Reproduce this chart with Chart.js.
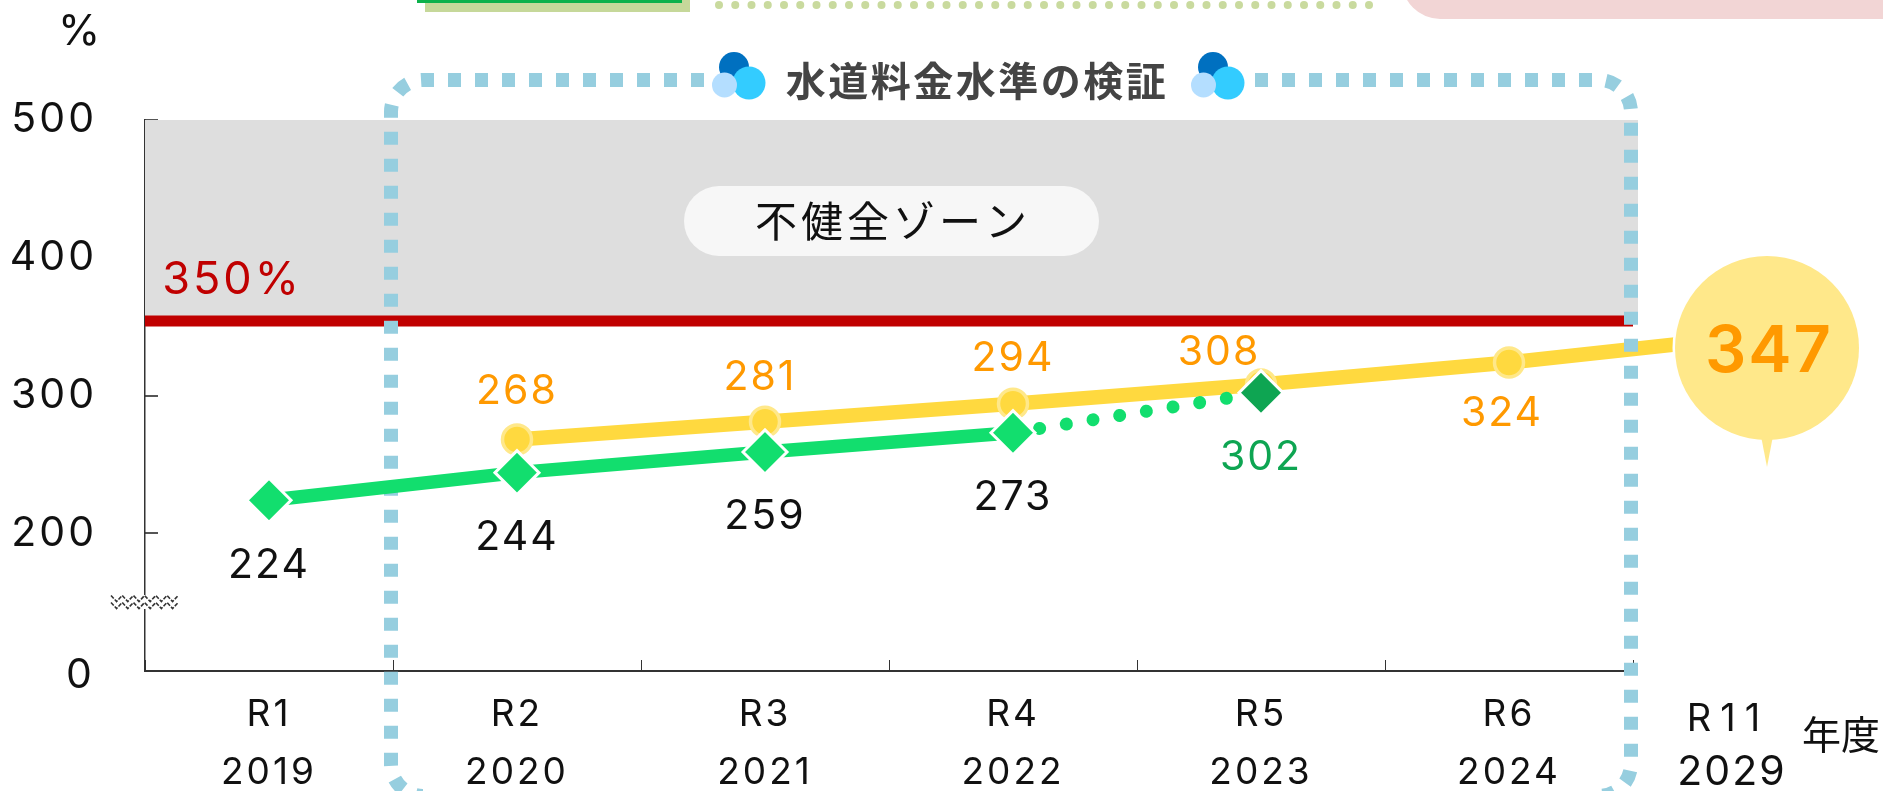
<!DOCTYPE html>
<html lang="ja">
<head>
<meta charset="utf-8">
<title>水道料金水準の検証</title>
<script src="https://cdn.jsdelivr.net/npm/chart.js@4"></script>
<style>
html, body { margin: 0; padding: 0; background: #fff; overflow: hidden; }
canvas { display: block; }
</style>
</head>
<body>
<canvas id="myChart" width="1883" height="791"></canvas>
<script>
// data
const yearLabels = [['R1', '2019'], ['R2', '2020'], ['R3', '2021'], ['R4', '2022'], ['R5', '2023'], ['R6', '2024']];
const actualValues = [224, 244, 259, 273, null, null];
const estimateValues = [null, null, null, 273, 302, null];
const planValues = [null, 268, 281, 294, 308, 324];
const planPositions = [0, 1, 2, 3, 4, 5];
const planLastPosition = 6.18;   // R11 sits off the regular scale, behind the bubble
const planLastValue = 347;
const limitValue = 354;          // where the 350% line is actually drawn
const limitEnds = [-0.5, 5.5];
const yTickValues = [100, 200, 300, 400, 500];
const yTickLabels = ['0', '200', '300', '400', '500']; // broken axis: bottom shows 0

const numFont = 'Inter';
const jpFont = '"Noto Sans CJK JP"';
const green = '#12DE6E';
const darkGreen = '#0EA552';
const yellow = '#FFD93F';
const paleYellow = '#FFE88A';
const orange = '#FF9900';
const dotBlue = '#96CEDF';

function text(c, str, x, y, font, color, spacing) {
    c.font = font;
    c.fillStyle = color;
    c.textAlign = 'center';
    c.textBaseline = 'middle';
    c.letterSpacing = (spacing || 0) + 'px';
    c.fillText(str, x, y);
    c.letterSpacing = '0px';
}

function drops(c, dx) {
    c.fillStyle = '#0070C0';
    c.beginPath(); c.arc(734 + dx, 67, 15, 0, Math.PI * 2); c.fill();
    c.fillStyle = '#33CCFF';
    c.beginPath(); c.arc(749 + dx, 83, 16.5, 0, Math.PI * 2); c.fill();
    c.fillStyle = '#B4DEFF';
    c.beginPath(); c.arc(724.5 + dx, 85, 12.5, 0, Math.PI * 2); c.fill();
}

function dottedFrame(c) {
    const top = 80, bottom = 796, left = 391, right = 1631, r = 32;
    c.save();
    c.strokeStyle = dotBlue;
    c.lineWidth = 14;
    c.setLineDash([13, 14]);
    c.beginPath();
    c.moveTo(704, top);
    c.arcTo(left, top, left, bottom, r);
    c.arcTo(left, bottom, right, bottom, r);
    c.lineTo(420, bottom);
    c.stroke();
    c.beginPath();
    c.moveTo(1255, top);
    c.arcTo(right, top, right, bottom, r);
    c.arcTo(right, bottom, left, bottom, r);
    c.lineTo(1600, bottom);
    c.stroke();
    c.restore();
}

const extras = {
    id: 'extras',
    beforeDraw(chart) {
        // axis labels are spaced out in the original
        chart.ctx.letterSpacing = '3px';
    },
    beforeDatasetsDraw(chart) {
        const c = chart.ctx, y = chart.scales.y;
        c.letterSpacing = '0px';
        // grey zone above the limit line
        c.fillStyle = '#DEDEDE';
        c.fillRect(chart.chartArea.left, y.top, 1638 - chart.chartArea.left, y.getPixelForValue(limitValue) - y.top);
        // pieces of the page above the chart
        c.fillStyle = '#C6D89A';
        c.fillRect(425, 0, 265, 12);
        c.fillStyle = '#0DB14B';
        c.fillRect(417, 0, 265, 3);
        c.fillStyle = '#C9DA9E';
        for (let x = 719; x < 1377; x += 16.25) {
            c.beginPath(); c.ellipse(x, 5, 4, 4, 0, 0, Math.PI * 2); c.fill();
        }
        c.fillStyle = '#F2D5D5';
        c.beginPath();
        c.roundRect(1402, -60, 600, 79, 38);
        c.fill();
    },
    afterDatasetDraw(chart, args) {
        // frame goes over the yellow line but under the green one
        if (args.index === 1) dottedFrame(chart.ctx);
    },
    afterDatasetsDraw(chart) {
        const c = chart.ctx;
        const f = '400 41px ' + numFont;

        // value labels hang off the points
        const actual = chart.getDatasetMeta(3).data;
        [0, 1, 2, 3].forEach(i => {
            text(c, actualValues[i], actual[i].x, actual[i].y + 65, f, '#111', 2);
        });
        const est = chart.getDatasetMeta(2).data;
        text(c, estimateValues[4], est[4].x, est[4].y + 65, f, darkGreen, 2);
        const plan = chart.getDatasetMeta(1).data;
        const planOffsets = [[0, 0], [0, -48], [-5, -44], [0, -45], [-42, -32], [-7, 51]];
        [1, 2, 3, 4, 5].forEach(i => {
            text(c, planValues[i], plan[i].x + planOffsets[i][0], plan[i].y + planOffsets[i][1], f, orange, 2);
        });

        // bottom tick of the broken axis sits lower than its tick mark
        text(c, yTickLabels[0], 79, 676, '400 41px ' + numFont, '#111');

        // callout for R11
        c.fillStyle = paleYellow;
        c.strokeStyle = '#fff';
        c.lineWidth = 5;
        c.beginPath();
        c.arc(1767, 348, 92, 0, Math.PI * 2);
        c.stroke();
        c.fill();
        c.beginPath();
        c.moveTo(1761, 436);
        c.lineTo(1767, 467);
        c.lineTo(1773, 436);
        c.fill();
        text(c, String(planLastValue), 1769, 352, '600 65px ' + numFont, orange, 2);

        text(c, '350%', 232, 280, '400 45px ' + numFont, '#C00000', 3);
        text(c, '%', 79, 32, '400 43px ' + numFont, '#111');

        // zone label and title
        c.fillStyle = '#F7F7F7';
        c.beginPath();
        c.roundRect(684, 186, 415, 70, 35);
        c.fill();
        text(c, '不健全ゾーン', 893, 221, '400 42px ' + jpFont, '#111', 4);
        text(c, '水道料金水準の検証', 977, 81, '700 40px ' + jpFont, '#444', 2.5);
        drops(c, 0);
        drops(c, 479);

        // R11 and unit, outside the regular axis
        text(c, 'R11', 1728, 720, '400 38px ' + numFont, '#111', 9);
        text(c, '2029', 1732, 773, '400 41px ' + numFont, '#111', 2);
        text(c, '年度', 1841, 734, '400 39px ' + jpFont, '#111');

        // axis break mark
        c.fillStyle = '#fff';
        c.fillRect(111, 595, 67, 14);
        c.strokeStyle = '#333';
        c.lineWidth = 1.6;
        c.setLineDash([4, 1.5]);
        [598.5, 605.5].forEach(yy => {
            c.beginPath();
            for (let i = 0; i <= 12; i++) {
                const px = 111 + i * 5.6, py = yy + (i % 2 ? 3 : -3);
                if (i === 0) c.moveTo(px, py); else c.lineTo(px, py);
            }
            c.stroke();
        });
        c.setLineDash([]);
    }
};

new Chart(document.getElementById('myChart'), {
    type: 'line',
    plugins: [extras],
    data: {
        labels: yearLabels,
        datasets: [
            {
                label: 'limit',
                xAxisID: 'xExt',
                data: limitEnds.map(x => ({ x: x, y: limitValue })),
                borderColor: '#C00000',
                borderWidth: 11,
                pointRadius: 0,
                order: 5
            },
            {
                label: 'plan',
                xAxisID: 'xExt',
                data: planPositions.map((x, i) => ({ x: x, y: planValues[i] }))
                    .concat([{ x: planLastPosition, y: planLastValue }]),
                borderColor: yellow,
                borderWidth: 14.5,
                pointRadius: [0, 14.5, 14.5, 14.5, 14.5, 14.5, 0],
                pointBackgroundColor: yellow,
                pointBorderColor: paleYellow,
                pointBorderWidth: 3.5,
                clip: false,
                order: 4
            },
            {
                label: 'estimate',
                data: estimateValues,
                borderColor: green,
                borderWidth: 13,
                borderDash: [0.01, 27],
                borderCapStyle: 'round',
                pointStyle: 'rectRot',
                pointRadius: [0, 0, 0, 0, 22, 0],
                pointBackgroundColor: darkGreen,
                pointBorderColor: '#fff',
                pointBorderWidth: 3,
                clip: false,
                order: 3
            },
            {
                label: 'actual',
                data: actualValues,
                borderColor: green,
                borderWidth: 13.5,
                pointStyle: 'rectRot',
                pointRadius: 22,
                pointBackgroundColor: green,
                pointBorderColor: '#fff',
                pointBorderWidth: 3,
                clip: false,
                order: 2
            }
        ]
    },
    options: {
        responsive: false,
        animation: false,
        layout: { padding: { top: 120, right: 250, bottom: 0, left: 0 } },
        plugins: { legend: { display: false }, tooltip: { enabled: false } },
        scales: {
            x: {
                offset: true,
                afterFit: s => { s.height = 120; },
                border: { color: '#333', width: 2 },
                grid: { offset: true, drawOnChartArea: false, tickLength: -11, color: '#333', lineWidth: 1 },
                ticks: {
                    autoSkip: false,
                    maxRotation: 0,
                    padding: 26,
                    color: '#111',
                    font: { family: numFont, size: 37, weight: 400, lineHeight: 1.56 }
                }
            },
            xExt: { type: 'linear', display: false, min: limitEnds[0], max: limitEnds[1] },
            y: {
                min: yTickValues[0],
                max: yTickValues[yTickValues.length - 1],
                afterFit: s => { s.width = 145; },
                afterBuildTicks: s => { s.ticks = yTickValues.map(v => ({ value: v })); },
                border: { color: '#333', width: 1.5 },
                grid: { drawOnChartArea: false, tickLength: -13, color: '#555', lineWidth: 2 },
                ticks: {
                    padding: 61,
                    color: '#111',
                    font: { family: numFont, size: 41, weight: 400 },
                    callback: v => (v === yTickValues[0] ? '' : yTickLabels[yTickValues.indexOf(v)])
                }
            }
        }
    }
});
</script>
</body>
</html>
